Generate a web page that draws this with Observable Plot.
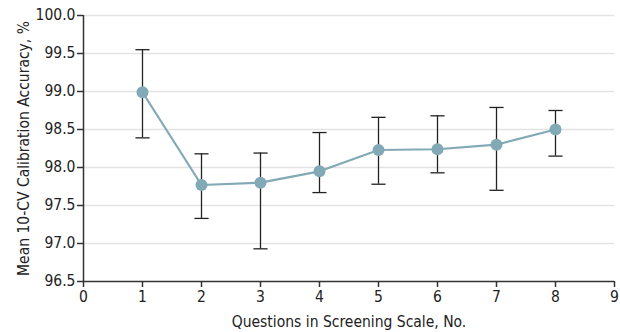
<!DOCTYPE html>
<html>
<head>
<meta charset="utf-8">
<script src="https://cdn.jsdelivr.net/npm/d3@7"></script>
<script src="https://cdn.jsdelivr.net/npm/@observablehq/plot@0.6"></script>
<style>
  html, body { margin: 0; padding: 0; background: #fff; }
  #chart { width: 620px; height: 332px; }
  svg { font-family: "DejaVu Sans Condensed", "DejaVu Sans", sans-serif; font-stretch: condensed; }
</style>
</head>
<body>
<div id="chart"></div>
<script>
const questions = [1, 2, 3, 4, 5, 6, 7, 8];
const meanAccuracy = [98.99, 97.77, 97.80, 97.95, 98.23, 98.24, 98.30, 98.50];
const upperCI = [99.55, 98.18, 98.19, 98.46, 98.66, 98.68, 98.79, 98.75];
const lowerCI = [98.39, 97.33, 96.93, 97.67, 97.78, 97.93, 97.70, 98.15];
const xTicks = [0, 1, 2, 3, 4, 5, 6, 7, 8, 9];
const yTicks = [96.5, 97.0, 97.5, 98.0, 98.5, 99.0, 99.5, 100.0];

const data = questions.map((q, i) => ({q, mean: meanAccuracy[i], hi: upperCI[i], lo: lowerCI[i]}));
const capHalf = 0.12;
const lineColor = "#82a9b6";
const axisColor = "#333";

const chart = Plot.plot({
  width: 620,
  height: 332,
  marginLeft: 83,
  marginRight: 6,
  marginTop: 15,
  marginBottom: 51,
  style: {fontSize: "15px", color: "#222", background: "#fff"},
  x: {domain: [0, 9]},
  y: {domain: [96.5, 100]},
  marks: [
    Plot.ruleY(yTicks.filter(t => t > 96.5), {stroke: "#e3e3e3", strokeWidth: 1.5}),
    Plot.axisX({ticks: xTicks, tickSize: 6, tickPadding: 3, stroke: axisColor, strokeWidth: 1.5,
      label: "Questions in Screening Scale, No.", labelAnchor: "center", labelArrow: "none", labelOffset: 45, fill: "#222", fontSize: "15.5px"}),
    Plot.axisY({ticks: yTicks, tickFormat: d3.format(".1f"), tickSize: 6, tickPadding: 2, stroke: axisColor, strokeWidth: 1.5,
      label: "Mean 10-CV Calibration Accuracy, %", labelAnchor: "center", labelArrow: "none", labelOffset: 66, fill: "#222", fontSize: "15.5px"}),
    Plot.ruleX([0], {stroke: axisColor, strokeWidth: 1.5}),
    Plot.ruleY([96.5], {stroke: axisColor, strokeWidth: 1.5}),
    Plot.ruleX(data, {x: "q", y1: "lo", y2: "hi", stroke: "#222", strokeWidth: 1.3}),
    Plot.link(data, {x1: d => d.q - capHalf, x2: d => d.q + capHalf, y1: "hi", y2: "hi", stroke: "#222", strokeWidth: 1.3}),
    Plot.link(data, {x1: d => d.q - capHalf, x2: d => d.q + capHalf, y1: "lo", y2: "lo", stroke: "#222", strokeWidth: 1.3}),
    Plot.line(data, {x: "q", y: "mean", stroke: lineColor, strokeWidth: 2.2}),
    Plot.dot(data, {x: "q", y: "mean", r: 6, fill: lineColor, stroke: "none"})
  ]
});
document.getElementById("chart").appendChild(chart);
</script>
</body>
</html>
